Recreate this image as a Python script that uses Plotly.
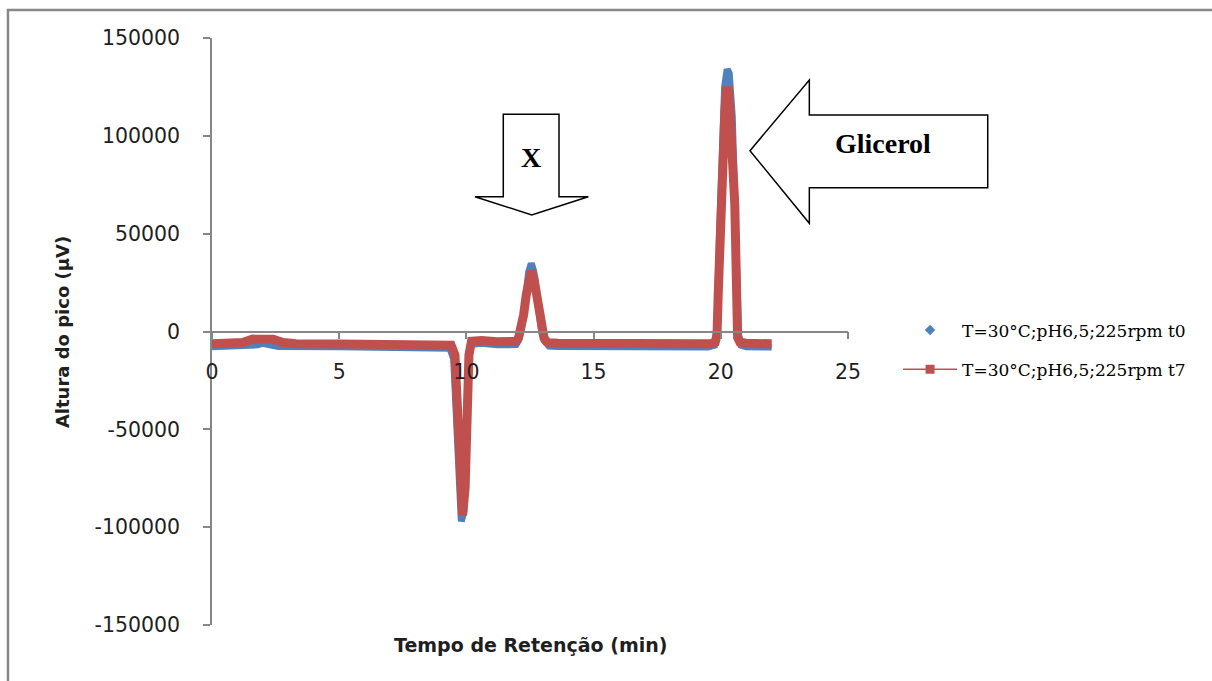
import plotly.graph_objects as go

# Chromatogram samples: retention time (min) and peak height (µV)
t0_time = [0.0, 1.4, 1.8, 2.0, 2.2, 2.6, 5.0, 9.0, 9.35, 9.5, 9.6, 9.7, 9.8, 9.9, 10.0, 10.08,
           10.2, 10.6, 11.2, 11.85, 11.95, 12.05, 12.15, 12.25, 12.35, 12.45, 12.55, 12.65,
           12.75, 12.85, 12.95, 13.05, 13.15, 13.25, 13.6, 17.0, 19.5, 19.75, 19.85, 19.95,
           20.05, 20.15, 20.25, 20.33, 20.45, 20.55, 20.62, 20.7, 20.8, 21.0, 22.0]
t0_signal = [-7800, -7700, -6800, -6000, -6800, -7700, -7800, -7900, -8500, -14000, -40000,
             -80000, -97000, -92000, -55000, -15000, -6500, -6000, -6800, -7400, -6700, -4500,
             500, 9100, 20400, 30600, 34800, 30600, 20400, 9100, 500, -4500, -6700, -7400,
             -7700, -7900, -7900, -7000, 2000, 50000, 95000, 125000, 134000, 132000, 110000,
             70000, 30000, -2000, -7000, -7800, -7900]

t7_time = [0.0, 0.8, 1.2, 1.6, 2.0, 2.4, 2.8, 3.3, 5.0, 7.0, 9.0, 9.4, 9.55, 9.65, 9.75, 9.85,
           9.95, 10.02, 10.1, 10.2, 10.6, 11.2, 11.85, 11.95, 12.05, 12.15, 12.25, 12.35,
           12.45, 12.55, 12.65, 12.75, 12.85, 12.95, 13.05, 13.15, 13.25, 13.6, 15.0, 17.0,
           19.0, 19.6, 19.78, 19.85, 19.9, 19.95, 20.02, 20.1, 20.16, 20.22, 20.3, 20.36,
           20.42, 20.5, 20.55, 20.58, 20.62, 20.66, 20.75, 21.0, 22.0]
t7_signal = [-6300, -6200, -5600, -3900, -3600, -4000, -5600, -6300, -6400, -6500, -6600,
             -7000, -12000, -35000, -75000, -94000, -80000, -45000, -12000, -5000, -4600,
             -5200, -5800, -5100, -3200, 1100, 8600, 18500, 27400, 31000, 27400, 18500, 8600,
             1100, -3200, -5100, -5800, -6000, -6200, -6300, -6400, -6300, -5500, -2000,
             20000, 46000, 79000, 100000, 112000, 123000, 123000, 112000, 100000, 84000,
             65000, 46000, 15000, -3000, -5500, -6000, -6300]

series_names = ["T=30°C;pH6,5;225rpm t0", "T=30°C;pH6,5;225rpm t7"]
x_ticks = [0, 5, 10, 15, 20, 25]
y_ticks = [-150000, -100000, -50000, 0, 50000, 100000, 150000]
y_tick_text = ["-150000", "-100000", "-50000", "0", "50000", "100000", "150000"]

BLUE = "#4F81BD"
RED = "#C0504D"
AXIS = "#868686"
TEXT = "#1f1f1f"

fig = go.Figure()

# data traces (thick bands like dense markers)
fig.add_trace(go.Scatter(x=t0_time, y=t0_signal, mode="lines", showlegend=False,
                         line=dict(color=BLUE, width=7)))
fig.add_trace(go.Scatter(x=t7_time, y=t7_signal, mode="lines", showlegend=False,
                         line=dict(color=RED, width=9)))

# legend entries
fig.add_trace(go.Scatter(x=[None], y=[None], mode="markers", name=series_names[0],
                         legendgroup="a",
                         marker=dict(symbol="diamond", size=8, color=BLUE)))
fig.add_trace(go.Scatter(x=[None], y=[None], mode="lines+markers", name=series_names[1],
                         legendgroup="b",
                         line=dict(color=RED, width=1.5),
                         marker=dict(symbol="square", size=9, color=RED)))

# block arrows with labels (paper coordinates)
arrow_x = "M 0.458 0.870 L 0.5456 0.870 L 0.5456 0.7297 L 0.5917 0.7297 L 0.5027 0.6985 " \
          "L 0.4135 0.7297 L 0.458 0.7297 Z"
arrow_g = "M 0.8459 0.808 L 0.9392 0.9285 L 0.9392 0.8688 L 1.2197 0.8688 L 1.2197 0.745 " \
          "L 0.9392 0.745 L 0.9392 0.6843 Z"
for p in (arrow_x, arrow_g):
    fig.add_shape(type="path", path=p, xref="paper", yref="paper",
                  line=dict(color="black", width=1.5), fillcolor="white", layer="above")

# outer frame (top and left edges)
fig.add_shape(type="path", xref="paper", yref="paper",
              path="M -0.3208 -0.2 L -0.3208 1.0477 L 1.6 1.0477",
              line=dict(color="#888888", width=2.5))

fig.add_annotation(x=0.5016, y=0.797, xref="paper", yref="paper", text="<b>X</b>",
                   xanchor="center", yanchor="middle", showarrow=False,
                   font=dict(family="Liberation Serif", size=28, color="black"))
fig.add_annotation(x=1.0546, y=0.8206, xref="paper", yref="paper", text="<b>Glicerol</b>",
                   xanchor="center", yanchor="middle", showarrow=False,
                   font=dict(family="Liberation Serif", size=28, color="black"))

# axis titles
fig.add_annotation(x=0.5, y=-0.034, xref="paper", yref="paper",
                   text="<b>Tempo de Retenção (min)</b>", showarrow=False,
                   xanchor="center", yanchor="middle",
                   font=dict(family="DejaVu Sans", size=19, color=TEXT))
fig.add_annotation(x=-0.2358, y=0.499, xref="paper", yref="paper",
                   text="<b>Altura do pico (µV)</b>", showarrow=False, textangle=-90,
                   xanchor="center", yanchor="middle",
                   font=dict(family="DejaVu Sans", size=18, color=TEXT))

fig.update_layout(
    width=1212, height=681,
    margin=dict(l=212, r=364, t=38, b=56),
    paper_bgcolor="white", plot_bgcolor="white",
    font=dict(family="DejaVu Sans", color=TEXT),
    legend=dict(x=1.0787, y=0.4685, xanchor="left", yanchor="middle", itemwidth=54,
                font=dict(family="DejaVu Serif", size=17, color="black"),
                tracegroupgap=14, traceorder="grouped", bgcolor="rgba(0,0,0,0)"),
    xaxis=dict(range=[0, 25], tickvals=x_ticks, showgrid=False, zeroline=False,
               showline=True, linecolor=AXIS, linewidth=1.5,
               ticks="outside", ticklen=7, tickcolor=AXIS, tickwidth=1.5,
               anchor="free", position=0.5, ticklabelstandoff=15,
               tickfont=dict(size=20.5, color=TEXT)),
    yaxis=dict(range=[-150000, 150000], tickvals=y_ticks, ticktext=y_tick_text,
               showgrid=False, zeroline=False, showline=True, linecolor=AXIS, linewidth=1.5,
               ticks="outside", ticklen=7, tickcolor=AXIS, tickwidth=1.5,
               ticklabelstandoff=19, tickfont=dict(size=20.5, color=TEXT)),
)

fig.write_html("out.html")
